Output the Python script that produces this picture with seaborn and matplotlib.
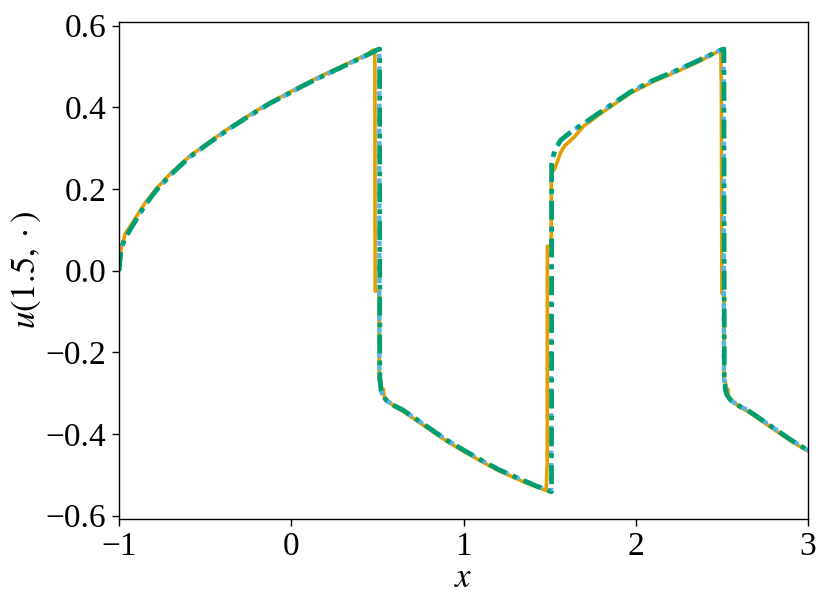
import numpy as np
import pandas as pd
import matplotlib
matplotlib.use("Agg")
import matplotlib.pyplot as plt
import seaborn as sns

# ---- data ----
x_green = [-1.0, -0.99, -0.97, -0.936, -0.9, -0.85, -0.781, -0.7, -0.588, -0.47, -0.355, -0.24,
           -0.123, 0.0, 0.051, 0.15, 0.25, 0.35, 0.45, 0.505, 0.513, 0.514, 0.52, 0.53, 0.551,
           0.6, 0.648, 0.7, 0.8, 0.9, 1.0, 1.1, 1.2, 1.3, 1.4, 1.48, 1.508, 1.511, 1.512, 1.53,
           1.565, 1.63, 1.70, 1.8, 1.9, 1.97, 2.1, 2.24, 2.35, 2.49, 2.512, 2.514, 2.52, 2.53,
           2.551, 2.6, 2.648, 2.7, 2.8, 2.9, 3.0]
u_green = [0.0, 0.045, 0.075, 0.10, 0.125, 0.16, 0.198, 0.235, 0.279, 0.315, 0.349, 0.38,
           0.41, 0.437, 0.449, 0.47, 0.49, 0.51, 0.53, 0.542, 0.543, -0.259, -0.29, -0.305, -0.317,
           -0.331, -0.341, -0.356, -0.385, -0.414, -0.439, -0.463, -0.486, -0.505, -0.523, -0.537,
           -0.541, -0.541, 0.263, 0.295, 0.32, 0.342, 0.361, 0.39, 0.418, 0.438, 0.466, 0.491,
           0.512, 0.54, 0.543, -0.26, -0.29, -0.305, -0.317, -0.331, -0.341, -0.356, -0.385,
           -0.414, -0.44]

x_blue = [-1.0, -0.99, -0.97, -0.936, -0.9, -0.85, -0.781, -0.7, -0.588, -0.47, -0.355, -0.24,
          -0.123, 0.0, 0.051, 0.15, 0.25, 0.35, 0.45, 0.505, 0.511, 0.512, 0.52, 0.53, 0.551,
          0.6, 0.648, 0.7, 0.8, 0.9, 1.0, 1.1, 1.2, 1.3, 1.4, 1.48, 1.506, 1.509, 1.51, 1.53,
          1.565, 1.63, 1.70, 1.8, 1.9, 1.97, 2.1, 2.24, 2.35, 2.49, 2.51, 2.512, 2.52, 2.53,
          2.551, 2.6, 2.648, 2.7, 2.8, 2.9, 3.0]
u_blue = [0.0, 0.045, 0.076, 0.10, 0.125, 0.16, 0.198, 0.235, 0.279, 0.315, 0.349, 0.38,
          0.41, 0.437, 0.449, 0.47, 0.49, 0.51, 0.53, 0.541, 0.542, -0.262, -0.292, -0.306, -0.318,
          -0.331, -0.341, -0.356, -0.385, -0.414, -0.439, -0.463, -0.486, -0.505, -0.523, -0.536,
          -0.54, -0.54, 0.266, 0.296, 0.32, 0.342, 0.361, 0.39, 0.418, 0.438, 0.466, 0.491,
          0.512, 0.54, 0.542, -0.262, -0.292, -0.306, -0.318, -0.331, -0.341, -0.356, -0.385,
          -0.414, -0.44]

x_orange = [-1.0, -0.99, -0.985, -0.97, -0.965, -0.936, -0.9, -0.85, -0.781, -0.7, -0.588,
            -0.47, -0.355, -0.24, -0.123, 0.0, 0.051, 0.15, 0.25, 0.35, 0.45, 0.474, 0.485,
            0.486, 0.487, 0.51, 0.511, 0.52, 0.525, 0.535, 0.54, 0.56, 0.6, 0.648, 0.7, 0.8,
            0.9, 1.0, 1.1, 1.2, 1.3, 1.4, 1.48, 1.481, 1.486, 1.487, 1.509, 1.51, 1.53, 1.547,
            1.565, 1.586, 1.644, 1.70, 1.8, 1.9, 1.97, 2.1, 2.24, 2.35, 2.494, 2.496, 2.497,
            2.5, 2.512, 2.513, 2.52, 2.525, 2.535, 2.54, 2.56, 2.6, 2.648, 2.7, 2.8, 2.9, 3.0]
u_orange = [0.0, 0.05, 0.06, 0.08, 0.09, 0.108, 0.132, 0.165, 0.202, 0.238, 0.281,
            0.317, 0.351, 0.382, 0.412, 0.439, 0.451, 0.472, 0.492, 0.512, 0.532, 0.54, 0.54,
            0.475, -0.05, -0.05, -0.27, -0.27, -0.29, -0.29, -0.31, -0.318, -0.333, -0.344,
            -0.359, -0.388, -0.417, -0.442, -0.466, -0.489, -0.508, -0.526, -0.538, -0.53,
            -0.47, 0.06, 0.06, 0.24, 0.25, 0.27, 0.29, 0.305, 0.328, 0.355, 0.386, 0.415, 0.435,
            0.463, 0.488, 0.509, 0.54, 0.475, 0.475, -0.055, -0.055, -0.27, -0.27, -0.29, -0.29,
            -0.31, -0.318, -0.333, -0.344, -0.359, -0.388, -0.417, -0.442]

xticks = [-1, 0, 1, 2, 3]
yticks = [-0.6, -0.4, -0.2, 0.0, 0.2, 0.4, 0.6]

c_orange = "#E69F00"
c_blue = "#56B4E9"
c_green = "#009E73"

sns.set_style("ticks")
plt.rcParams["font.family"] = ["Liberation Serif", "DejaVu Serif"]
plt.rcParams["mathtext.fontset"] = "stix"
plt.rcParams["axes.unicode_minus"] = True
plt.rcParams["text.color"] = "black"
plt.rcParams["axes.labelcolor"] = "black"
plt.rcParams["xtick.color"] = "black"
plt.rcParams["ytick.color"] = "black"

fig = plt.figure(figsize=(8.31, 6.12), dpi=100)
ax = fig.add_axes([119 / 831, 1 - 519 / 612, (808 - 119) / 831, (519 - 22) / 612])

df_o = pd.DataFrame({"x": x_orange, "u": u_orange})
df_b = pd.DataFrame({"x": x_blue, "u": u_blue})
df_g = pd.DataFrame({"x": x_green, "u": u_green})

sns.lineplot(data=df_o, x="x", y="u", sort=False, estimator=None, ax=ax,
             color=c_orange, lw=2.6, linestyle="-")
sns.lineplot(data=df_b, x="x", y="u", sort=False, estimator=None, ax=ax,
             color=c_blue, lw=3.2, linestyle=(0, (1.2, 1.6)))
sns.lineplot(data=df_g, x="x", y="u", sort=False, estimator=None, ax=ax,
             color=c_green, lw=3.4, linestyle=(0, (4, 1.5, 1, 1.5)))

ax.set_xlim(-1, 3)
ax.set_ylim(-0.608, 0.609)
ax.set_xticks(xticks)
ax.set_yticks(yticks)
ax.set_xticklabels([f"{t:d}".replace("-", "\u2212") for t in xticks])
ax.set_yticklabels([f"{t:.1f}".replace("-", "\u2212") for t in yticks])
ax.tick_params(axis="both", labelsize=24, length=5, width=1.0, direction="out", pad=4,
               colors="black", labelcolor="black")
for s in ax.spines.values():
    s.set_linewidth(1.0)
    s.set_color("black")

ax.set_xlabel(r"$x$", fontsize=25, labelpad=0, color="black")
ax.set_ylabel(r"$u(1.5,\cdot)$", fontsize=25, labelpad=2, color="black")

fig.savefig("out.png", dpi=100)
